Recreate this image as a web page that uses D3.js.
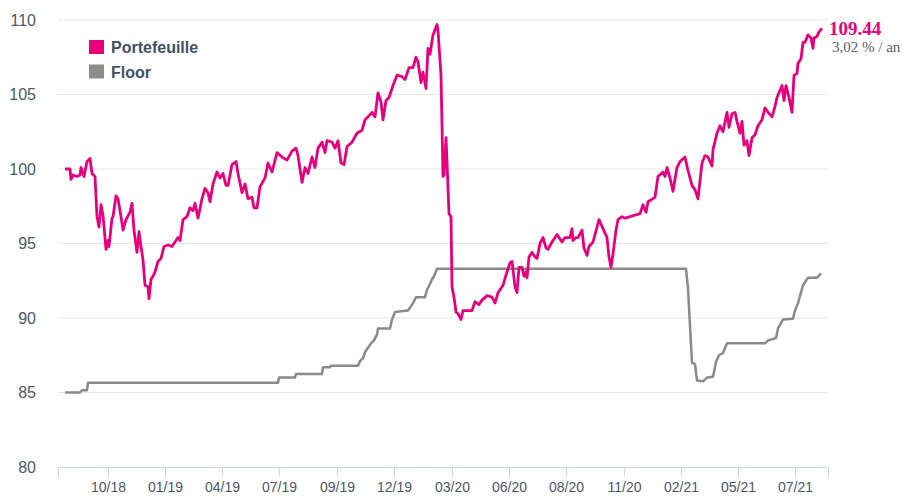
<!DOCTYPE html>
<html>
<head>
<meta charset="utf-8">
<script src="https://cdn.jsdelivr.net/npm/d3@7"></script>
<style>
  body { margin: 0; background: #fff; }
  svg { display: block; font-family: "Liberation Sans", Arial, sans-serif; }
</style>
</head>
<body>
<div id="chart"></div>
<script>
// Données (index de jour de bourse, valeur)
const portfolio = [
  [1,100.0],[6,100.0],[7,99.3],[9,99.6],[13,99.5],[16,99.6],[17,100.1],[20,99.5],[23,100.5],[26,100.7],
  [28,99.7],[31,99.5],[33,96.8],[35,96.1],[37,97.6],[39,96.9],[42,94.6],[44,95.2],[45,94.8],[48,96.7],
  [49,96.8],[52,98.2],[54,98.0],[57,96.8],[59,95.9],[62,96.6],[66,97.1],[68,97.7],[70,95.9],[73,94.4],
  [75,95.8],[77,94.8],[79,93.9],[81,92.2],[84,92.1],[85,91.3],[87,92.6],[89,92.8],[91,93.1],[94,93.8],
  [97,94.0],[100,94.8],[104,94.9],[108,94.8],[111,95.1],[114,95.4],[116,95.2],[119,96.6],[123,96.8],[126,97.4],
  [129,97.2],[131,97.7],[134,96.7],[138,98.0],[141,98.7],[144,98.4],[146,97.8],[149,99.0],[153,99.8],[156,99.4],
  [159,99.7],[162,98.9],[164,98.9],[168,100.3],[172,100.5],[174,99.7],[178,98.4],[181,99.0],[184,98.0],[188,98.1],
  [190,97.4],[193,97.4],[196,98.8],[201,99.4],[204,100.4],[208,99.8],[213,101.1],[218,100.8],[223,100.6],[228,101.2],
  [232,101.4],[234,100.9],[238,99.1],[241,100.1],[244,99.7],[248,100.8],[251,100.1],[254,101.4],[258,101.8],[261,101.1],
  [263,101.9],[268,101.8],[271,101.4],[274,101.9],[277,100.4],[280,100.3],[283,101.5],[288,101.8],[293,102.4],[298,102.6],
  [301,103.3],[304,103.5],[308,103.8],[311,103.5],[314,105.1],[317,104.5],[319,103.3],[322,104.6],[325,104.8],[329,105.6],
  [333,106.3],[338,106.2],[341,106.0],[345,106.8],[349,106.8],[352,107.5],[354,107.2],[357,105.8],[359,106.5],[362,105.4],
  [364,108.1],[366,107.7],[369,109.0],[373,109.7],[374,109.3],[377,106.3],[379,99.5],[380,99.6],[382,102.1],[383,100.5],
  [385,97.0],[387,96.8],[388,92.1],[390,91.4],[392,90.4],[394,90.3],[397,89.9],[399,90.5],[403,90.5],[408,90.5],
  [411,91.1],[415,90.9],[418,91.2],[423,91.5],[428,91.4],[431,91.0],[434,91.7],[439,92.2],[443,93.1],[446,93.7],
  [448,93.8],[451,92.1],[453,91.7],[455,93.4],[458,93.4],[460,92.8],[462,93.1],[463,92.7],[465,94.1],[468,94.4],
  [471,94.1],[473,94.0],[476,95.0],[479,95.4],[482,94.7],[484,94.6],[488,95.1],[493,95.6],[498,95.1],[501,95.4],
  [506,95.4],[508,96.0],[509,95.2],[512,95.4],[514,95.4],[518,95.9],[520,94.7],[523,94.2],[525,94.8],[529,95.1],
  [533,96.1],[535,96.6],[539,96.0],[543,95.4],[545,94.1],[547,93.4],[549,94.3],[552,95.9],[554,96.6],[558,96.8],
  [561,96.7],[566,96.8],[571,96.9],[576,97.0],[579,97.6],[582,97.1],[584,97.8],[591,98.1],[594,99.5],[599,99.8],
  [601,99.5],[603,100.1],[606,99.4],[609,98.5],[613,100.1],[616,100.5],[621,100.8],[624,99.9],[628,98.9],[631,98.6],
  [634,98.0],[638,100.4],[641,100.9],[644,100.8],[648,100.2],[649,101.3],[653,102.4],[656,102.9],[659,102.5],[663,103.8],
  [665,102.8],[668,103.7],[671,103.8],[673,103.2],[676,102.4],[678,103.2],[680,101.6],[683,101.9],[685,100.9],[688,102.1],
  [691,102.3],[694,102.9],[698,103.3],[701,104.1],[704,103.8],[708,103.5],[711,104.2],[713,104.8],[718,105.6],[720,104.6],
  [722,105.6],[725,104.8],[728,103.8],[730,106.3],[733,106.4],[734,107.1],[737,107.4],[739,108.5],[741,108.5],[744,109.0],
  [747,108.8],[749,108.1],[750,108.8],[753,108.9],[755,109.2],[758,109.44]
];

const floor = [
  [1,85.0],[16,85.0],[18,85.15],[23,85.15],[24,85.65],[214,85.65],[215,86.0],[231,86.0],[232,86.25],[258,86.25],
  [259,86.7],[266,86.7],[267,86.8],[294,86.8],[296,87.1],[299,87.3],[301,87.7],[304,88.0],[307,88.3],[310,88.5],
  [313,88.9],[314,89.3],[326,89.3],[328,89.9],[331,90.4],[344,90.5],[347,90.8],[349,91.0],[352,91.4],[361,91.4],
  [363,91.9],[366,92.3],[368,92.6],[370,92.8],[373,93.3],[622,93.3],[624,92.0],[625,90.7],[628,87.0],[631,86.9],
  [633,85.8],[639,85.75],[643,86.0],[649,86.05],[652,87.05],[655,87.5],[659,87.65],[663,88.3],[701,88.3],[704,88.5],
  [712,88.65],[714,89.3],[719,89.9],[729,89.95],[731,90.5],[734,91.0],[739,92.2],[744,92.7],[753,92.7],[757,93.0]
];

const tickDays = [44, 101, 158, 215, 273, 330, 388, 445, 502, 560, 617, 674, 731];
const tickLabels = ["10/18", "01/19", "04/19", "07/19", "09/19", "12/19", "03/20",
                    "06/20", "08/20", "11/20", "02/21", "05/21", "07/21"];
const yTicks = [80, 85, 90, 95, 100, 105, 110];

const lastValue = "109.44";
const perfText = "3,02 % / an";

// Dimensions
const W = 902, H = 496;
const margin = {top: 20, right: 74, bottom: 29, left: 58};

const pink = "#e6007e";
const grey = "#8c8989";

const svg = d3.select("#chart").append("svg")
  .attr("width", W)
  .attr("height", H);

const x = d3.scaleLinear()
  .domain([-6, 764])
  .range([margin.left, W - margin.right]);

const y = d3.scaleLinear()
  .domain([80, 110])
  .range([H - margin.bottom, margin.top]);

// Grille horizontale
svg.append("g")
  .selectAll("line")
  .data(yTicks.filter(d => d > 80))
  .join("line")
  .attr("x1", margin.left)
  .attr("x2", W - margin.right)
  .attr("y1", d => y(d))
  .attr("y2", d => y(d))
  .attr("stroke", "#e6e6e6")
  .attr("stroke-width", 1);

// Axe Y (étiquettes)
svg.append("g")
  .selectAll("text")
  .data(yTicks)
  .join("text")
  .attr("x", 36)
  .attr("y", d => y(d) + 5.5)
  .attr("text-anchor", "end")
  .attr("fill", "#4a5867")
  .style("font-size", "16px")
  .text(d => d);

// Axe X
const xAxis = d3.axisBottom(x)
  .tickValues(tickDays)
  .tickFormat((d, i) => tickLabels[i])
  .tickSizeOuter(0)
  .tickSize(10)
  .tickPadding(5);

const gx = svg.append("g")
  .attr("transform", `translate(0,${y(80)})`)
  .call(xAxis);

gx.select(".domain").attr("stroke", "#ccd6eb");
gx.selectAll(".tick line").attr("stroke", "#ccd6eb");
gx.selectAll(".tick text")
  .attr("fill", "#4a5867")
  .style("font-size", "14px")
  .style("font-family", "'Liberation Sans', Arial, sans-serif");

// Courbes
const line = d3.line()
  .x(d => x(d[0]))
  .y(d => y(d[1]));

svg.append("path")
  .datum(floor)
  .attr("fill", "none")
  .attr("stroke", grey)
  .attr("stroke-width", 2.5)
  .attr("stroke-linejoin", "round")
  .attr("d", line);

svg.append("path")
  .datum(portfolio)
  .attr("fill", "none")
  .attr("stroke", pink)
  .attr("stroke-width", 2.8)
  .attr("stroke-linejoin", "round")
  .attr("d", line);

// Étiquette de la dernière valeur
const last = portfolio[portfolio.length - 1];
svg.append("text")
  .attr("x", x(last[0]) + 7)
  .attr("y", y(last[1]) + 7)
  .attr("fill", pink)
  .style("font-family", "'Liberation Serif', 'Times New Roman', serif")
  .style("font-weight", "bold")
  .style("font-size", "19px")
  .text(lastValue);

svg.append("text")
  .attr("x", x(last[0]) + 10)
  .attr("y", y(last[1]) + 24)
  .attr("fill", "#56626d")
  .style("font-family", "'Liberation Serif', 'Times New Roman', serif")
  .style("font-size", "15px")
  .text(perfText);

// Légende
const legend = svg.append("g")
  .attr("transform", "translate(89,40)");

const legendItems = [
  {name: "Portefeuille", color: pink},
  {name: "Floor", color: "#8f8b8b"}
];

const li = legend.selectAll("g")
  .data(legendItems)
  .join("g")
  .attr("transform", (d, i) => `translate(0,${i * 24.5})`);

li.append("rect")
  .attr("width", 15)
  .attr("height", 14)
  .attr("fill", d => d.color);

li.append("text")
  .attr("x", 22)
  .attr("y", 13)
  .attr("fill", "#3e5263")
  .style("font-size", "16px")
  .style("font-weight", "bold")
  .text(d => d.name);
</script>
</body>
</html>
